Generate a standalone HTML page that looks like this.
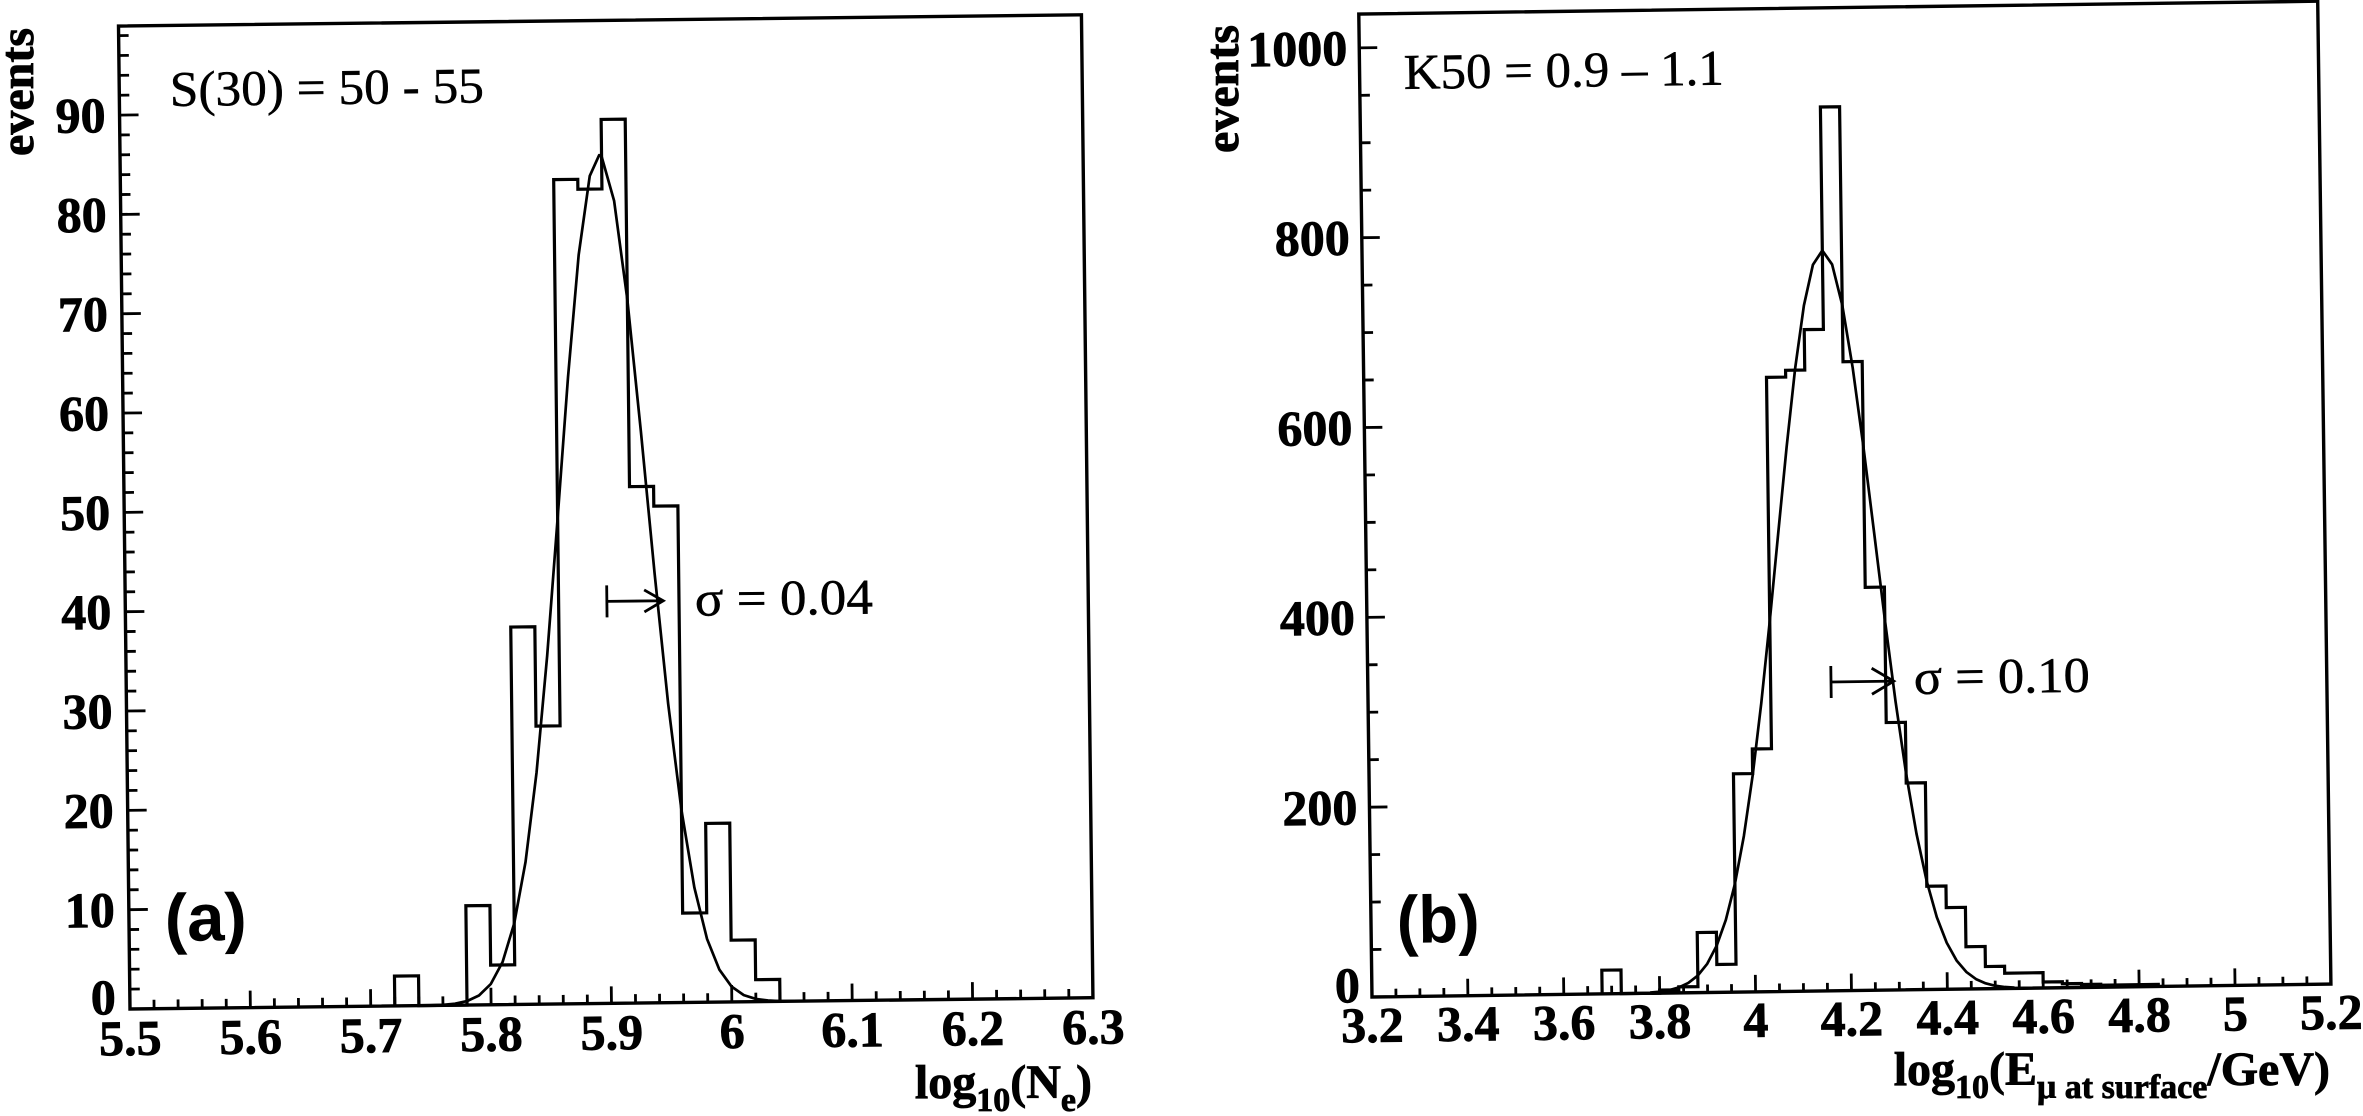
<!DOCTYPE html>
<html><head><meta charset="utf-8"><style>html,body{margin:0;padding:0;background:#fff;}svg{display:block}</style></head>
<body>
<svg width="2363" height="1116" viewBox="0 0 2363 1116" xmlns="http://www.w3.org/2000/svg" font-family="'Liberation Serif', serif">
<rect width="2363" height="1116" fill="#fff"/>

<!-- LEFT PANEL -->
<g transform="translate(130,1009) rotate(-0.67)">
  <rect x="0" y="-983" width="963" height="983" fill="none" stroke="#000" stroke-width="3.4"/>
  <g stroke="#000" stroke-width="2.8" fill="none">
    <path d="M24.08 0V-9M48.15 0V-9M72.23 0V-9M96.3 0V-9M144.45 0V-9M168.53 0V-9M192.6 0V-9M216.68 0V-9M264.83 0V-9M288.9 0V-9M312.98 0V-9M337.05 0V-9M385.2 0V-9M409.28 0V-9M433.35 0V-9M457.43 0V-9M505.58 0V-9M529.65 0V-9M553.73 0V-9M577.8 0V-9M625.95 0V-9M650.03 0V-9M674.1 0V-9M698.18 0V-9M746.33 0V-9M770.4 0V-9M794.48 0V-9M818.55 0V-9M866.7 0V-9M890.78 0V-9M914.85 0V-9M938.93 0V-9"/>
    <path d="M120.38 0V-17M240.75 0V-17M361.13 0V-17M481.5 0V-17M601.88 0V-17M722.25 0V-17M842.63 0V-17"/>
    <path d="M0 -19.87H10M0 -39.73H10M0 -59.6H10M0 -79.46H10M0 -119.2H10M0 -139.06H10M0 -158.93H10M0 -178.79H10M0 -218.53H10M0 -238.39H10M0 -258.26H10M0 -278.12H10M0 -317.86H10M0 -337.72H10M0 -357.59H10M0 -377.45H10M0 -417.19H10M0 -437.05H10M0 -456.92H10M0 -476.78H10M0 -516.52H10M0 -536.38H10M0 -556.25H10M0 -576.11H10M0 -615.85H10M0 -635.71H10M0 -655.58H10M0 -675.44H10M0 -715.18H10M0 -735.04H10M0 -754.91H10M0 -774.77H10M0 -814.51H10M0 -834.37H10M0 -854.24H10M0 -874.1H10M0 -913.84H10M0 -933.7H10M0 -953.57H10M0 -973.43H10"/>
    <path d="M0 -99.33H19M0 -198.66H19M0 -297.99H19M0 -397.32H19M0 -496.65H19M0 -595.98H19M0 -695.31H19M0 -794.64H19M0 -893.97H19"/>
    <!-- histogram -->
    <path stroke-width="3.2" d="M264.83 0V-29.8H288.9V0H337.05V-99.3H361.13V-39.7H385.2V-377.5H409.28V-278.1H433.35V-824.4H457.43V-814.5H481.5V-884H505.58V-516.5H529.65V-496.7H553.73V-89.4H577.8V-178.8H601.88V-61.8H625.95V-22H650.03V0"/>
    <!-- gaussian -->
    <polyline stroke-width="2.7" stroke-linejoin="round" points="300.94,-0.18 312.98,-0.55 325.01,-1.53 337.05,-3.95 349.09,-9.43 361.13,-20.87 373.16,-42.75 385.2,-81.14 397.24,-142.5 409.28,-231.7 421.31,-348.7 433.35,-485.9 445.39,-626.9 457.43,-748.6 469.46,-827.6 479.09,-848.3 481.5,-847 493.54,-802.4 505.58,-703.8 517.61,-571.5 529.65,-429.5 541.69,-298.9 553.73,-192.6 565.76,-114.8 577.8,-63.4 589.84,-32.4 601.88,-15.3 613.91,-6.71 625.95,-2.72 637.99,-1.02 650.03,-0.36 662.06,-0.11"/>
    <!-- arrow -->
    <path stroke-width="2.8" d="M481.6 -418V-386M481.6 -402H538M519 -413L538 -402L519 -391"/>
  </g>
  <g font-weight="bold" font-size="50" fill="#000" stroke="#000" stroke-width="0.8" text-anchor="end">
    <text x="-14" y="5">0</text>
    <text x="-14" y="-82.3">10</text>
    <text x="-14" y="-181.7">20</text>
    <text x="-14" y="-281">30</text>
    <text x="-14" y="-380.3">40</text>
    <text x="-14" y="-479.7">50</text>
    <text x="-14" y="-579">60</text>
    <text x="-14" y="-678.3">70</text>
    <text x="-14" y="-777.6">80</text>
    <text x="-14" y="-877">90</text>
  </g>
  <g font-weight="bold" font-size="50" fill="#000" stroke="#000" stroke-width="0.8" text-anchor="middle">
    <text x="0" y="46">5.5</text>
    <text x="120.38" y="46">5.6</text>
    <text x="240.75" y="46">5.7</text>
    <text x="361.13" y="46">5.8</text>
    <text x="481.5" y="46">5.9</text>
    <text x="601.88" y="46">6</text>
    <text x="722.25" y="46">6.1</text>
    <text x="842.63" y="46">6.2</text>
    <text x="963" y="46">6.3</text>
  </g>
  <text x="50.6" y="-902.5" font-size="50" stroke="#000" stroke-width="0.5" textLength="314" lengthAdjust="spacingAndGlyphs" fill="#000">S(30) = 50 - 55</text>
  <text x="569.6" y="-386.7" font-size="50" stroke="#000" stroke-width="0.5" textLength="178" lengthAdjust="spacingAndGlyphs" fill="#000">σ = 0.04</text>
  <text x="35.8" y="-67.6" font-family="'Liberation Sans', sans-serif" font-weight="bold" font-size="67" textLength="82" lengthAdjust="spacingAndGlyphs" fill="#000">(a)</text>
</g>

<text transform="translate(33,28) rotate(-90)" text-anchor="end" font-size="48" font-weight="bold" stroke="#000" stroke-width="0.8" fill="#000">events</text>
<text x="1092" y="1098" text-anchor="end" font-size="48" font-weight="bold" stroke="#000" stroke-width="0.8" fill="#000">log<tspan font-size="34" dy="13">10</tspan><tspan dy="-13">(N</tspan><tspan font-size="34" dy="13">e</tspan><tspan dy="-13">)</tspan></text>

<!-- RIGHT PANEL -->
<g transform="translate(1372,997) rotate(-0.77)">
  <rect x="0" y="-983" width="959" height="983" fill="none" stroke="#000" stroke-width="3.4"/>
  <g stroke="#000" stroke-width="2.8" fill="none">
    <path d="M23.98 0V-8M47.95 0V-8M71.93 0V-8M119.88 0V-8M143.85 0V-8M167.83 0V-8M215.78 0V-8M239.75 0V-8M263.73 0V-8M311.68 0V-8M335.65 0V-8M359.63 0V-8M407.58 0V-8M431.55 0V-8M455.53 0V-8M503.48 0V-8M527.45 0V-8M551.43 0V-8M599.38 0V-8M623.35 0V-8M647.33 0V-8M695.28 0V-8M719.25 0V-8M743.23 0V-8M791.18 0V-8M815.15 0V-8M839.13 0V-8M887.08 0V-8M911.05 0V-8M935.03 0V-8"/>
    <path d="M95.9 0V-17M191.8 0V-17M287.7 0V-17M383.6 0V-17M479.5 0V-17M575.4 0V-17M671.3 0V-17M767.2 0V-17M863.1 0V-17"/>
    <path d="M0 -47.46H10M0 -94.92H10M0 -142.38H10M0 -237.3H10M0 -284.76H10M0 -332.22H10M0 -427.14H10M0 -474.6H10M0 -522.06H10M0 -616.98H10M0 -664.44H10M0 -711.9H10M0 -806.82H10M0 -854.28H10M0 -901.74H10"/>
    <path d="M0 -189.84H18M0 -379.68H18M0 -569.52H18M0 -759.36H18M0 -949.2H18"/>
    <path stroke-width="3.2" d="M230.16 0V-23.7H249.34V0H287.7V-3H306.88V-6H326.06V-60.1H345.24V-27.9H364.42V-218.3H383.6V-242.9H402.78V-614.3H421.96V-621.1H441.14V-661.5H460.32V-883.9H479.5V-628.9H498.68V-403H517.86V-267.5H537.04V-206.8H556.22V-103.3H575.4V-81.7H594.58V-42.3H613.76V-22.2H632.94V-15.3H671.3V-6H690.48V-4H709.66V-3H728.84V-2H786.38V0"/>
    <polyline stroke-width="2.7" stroke-linejoin="round" points="278.11,-0.72 287.7,-1.46 297.29,-2.86 306.88,-5.4 316.47,-9.8 326.06,-17.1 335.65,-28.7 345.24,-46.5 354.83,-72.3 364.42,-108.3 374.01,-156 383.6,-216.4 393.19,-288.6 402.78,-370.6 412.37,-457.9 421.96,-544.3 431.55,-622.8 441.14,-685.6 450.73,-726.3 460.32,-740.4 469.91,-726.3 479.5,-685.6 489.09,-622.8 498.68,-544.3 508.27,-457.9 517.86,-370.6 527.45,-288.6 537.04,-216.4 546.63,-156 556.22,-108.3 565.81,-72.3 575.4,-46.5 584.99,-28.7 594.58,-17.1 604.17,-9.8 613.76,-5.4 623.35,-2.86 632.94,-1.46 642.53,-0.72"/>
    <path stroke-width="2.8" d="M463.2 -324.8V-292.8M463.2 -308.8H526M504 -322L526 -308.8L504 -296"/>
  </g>
  <g font-weight="bold" font-size="50" fill="#000" stroke="#000" stroke-width="0.8" text-anchor="end">
    <text x="-12" y="5">0</text>
    <text x="-12" y="-172.8">200</text>
    <text x="-12" y="-362.7">400</text>
    <text x="-12" y="-552.5">600</text>
    <text x="-12" y="-742.4">800</text>
    <text x="-12" y="-932.2">1000</text>
  </g>
  <g font-weight="bold" font-size="50" fill="#000" stroke="#000" stroke-width="0.8" text-anchor="middle">
    <text x="0" y="45">3.2</text>
    <text x="95.9" y="45">3.4</text>
    <text x="191.8" y="45">3.6</text>
    <text x="287.7" y="45">3.8</text>
    <text x="383.6" y="45">4</text>
    <text x="479.5" y="45">4.2</text>
    <text x="575.4" y="45">4.4</text>
    <text x="671.3" y="45">4.6</text>
    <text x="767.2" y="45">4.8</text>
    <text x="863.1" y="45">5</text>
    <text x="959" y="45">5.2</text>
  </g>
  <text x="44.2" y="-907.6" font-size="50" stroke="#000" stroke-width="0.5" textLength="320" lengthAdjust="spacingAndGlyphs" fill="#000">K50 = 0.9 – 1.1</text>
  <text x="546" y="-295.7" font-size="50" stroke="#000" stroke-width="0.5" textLength="176" lengthAdjust="spacingAndGlyphs" fill="#000">σ = 0.10</text>
  <text x="25.7" y="-53.7" font-family="'Liberation Sans', sans-serif" font-weight="bold" font-size="67" textLength="83" lengthAdjust="spacingAndGlyphs" fill="#000">(b)</text>
</g>

<text transform="translate(1238,25) rotate(-90)" text-anchor="end" font-size="48" font-weight="bold" stroke="#000" stroke-width="0.8" fill="#000">events</text>
<text x="2330" y="1085" text-anchor="end" font-size="48" font-weight="bold" stroke="#000" stroke-width="0.8" fill="#000">log<tspan font-size="34" dy="13">10</tspan><tspan dy="-13">(E</tspan><tspan font-size="34" dy="13">μ at surface</tspan><tspan dy="-13">/GeV)</tspan></text>
</svg>
</body></html>
